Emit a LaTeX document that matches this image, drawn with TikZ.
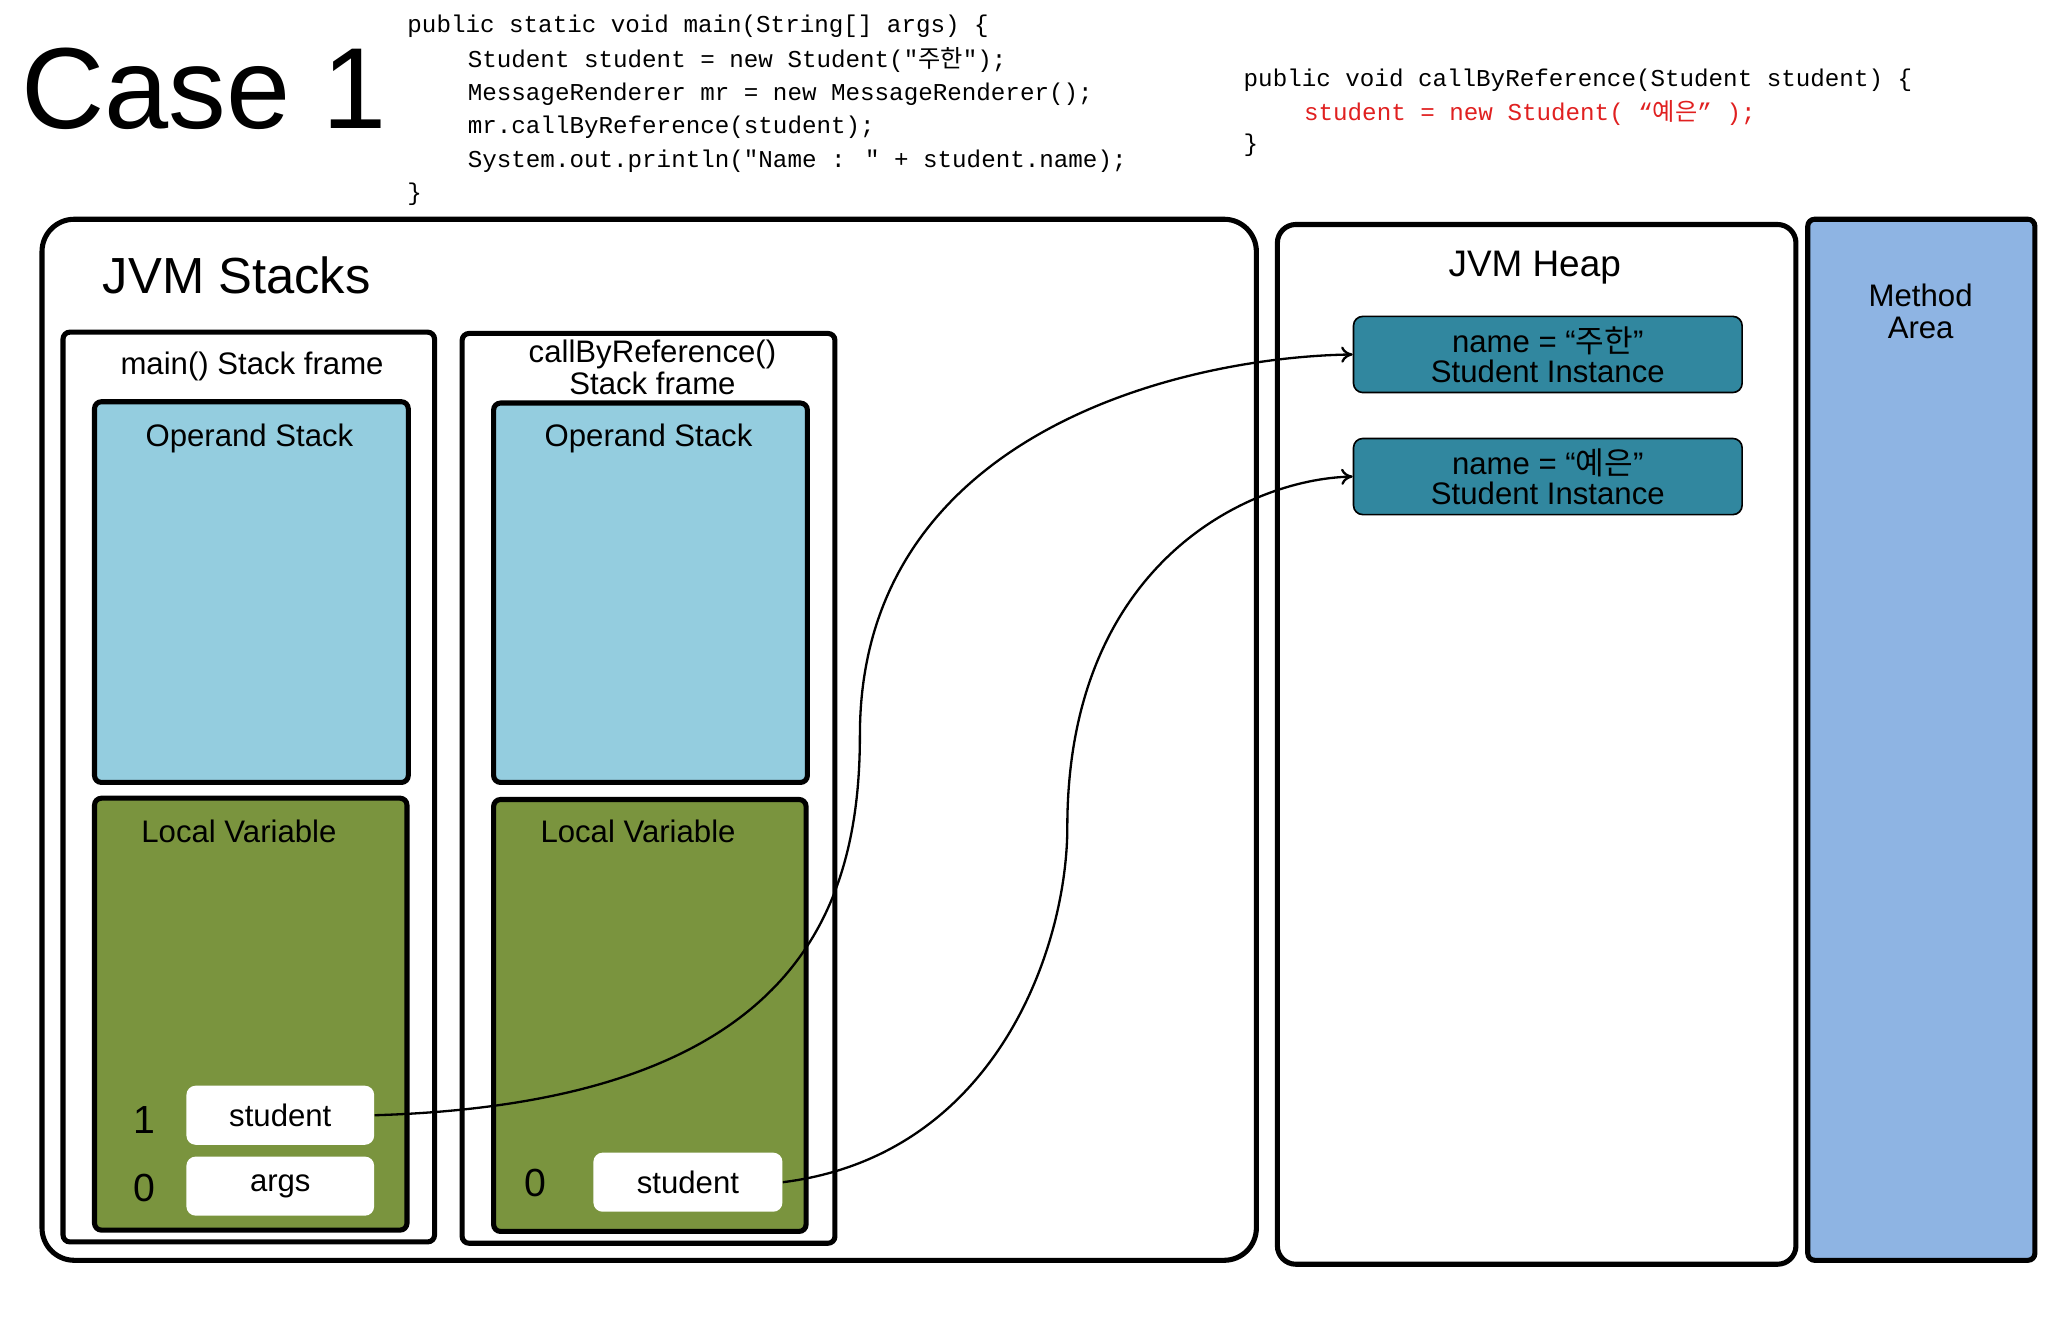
\documentclass[tikz,border=0pt]{standalone}
\usepackage{fontspec}
\setmainfont{Liberation Sans}
\newfontfamily\kr{Noto Sans CJK KR}
\newfontfamily\cde{Liberation Mono}
\usetikzlibrary{fit,arrows.meta}
\definecolor{opblue}{HTML}{94CDDF}
\definecolor{lvgreen}{HTML}{7A943E}
\definecolor{inst}{HTML}{31879F}
\definecolor{meth}{HTML}{8EB4E3}
\definecolor{codered}{HTML}{E02020}
\begin{document}
\begin{tikzpicture}[x=0.02cm,y=-0.02cm,
  bx/.style={draw=black,line width=2.2pt,inner sep=0pt},
  frame/.style={bx,rounded corners=3pt},
  op/.style={bx,fill=opblue,rounded corners=3pt},
  lv/.style={bx,fill=lvgreen,rounded corners=3pt},
  slot/.style={fill=white,rounded corners=4pt,inner sep=0pt},
  ins/.style={draw=black,line width=0.7pt,fill=inst,rounded corners=4pt,inner sep=0pt},
  lbl/.style={font=\fontsize{13.5}{15}\selectfont},
  code/.style={font=\cde\fontsize{10.5}{12}\selectfont,anchor=west,inner sep=0pt},
  ref/.style={line width=1pt,-{To[length=5pt,width=7pt]}}]
\useasboundingbox (0,0) rectangle (1560,1010);
\node[anchor=west,inner sep=0pt,font=\fontsize{50}{50}\selectfont] (case) at (16,68) {Case 1};
% code left
\node[code] (c1) at (310,20) {public static void main(String[] args) \{};
\node[code] (c2) at (356,46) {Student student = new Student("{\kr 주한}");};
\node[code] (c3) at (356,72) {MessageRenderer mr = new MessageRenderer();};
\node[code] (c4) at (356,97) {mr.callByReference(student);};
\node[code] (c5) at (356,123) {System.out.println("Name : " + student.name);};
\node[code] (c6) at (310,148) {\}};
% code right
\node[code] (r1) at (947,61) {public void callByReference(Student student) \{};
\node[code,text=codered] (r2) at (993,86) {student = new Student( “{\kr 예은}” );};
\node[code] (r3) at (947,111) {\}};
% stacks
\node[bx,rounded corners=14pt,fit={(32,167)(957,960)}] (stacks) {};
\node[anchor=west,inner sep=0pt,font=\fontsize{22}{24}\selectfont] (stt) at (78,210) {JVM Stacks};
% main frame
\node[frame,fit={(48,253)(331,946)}] (mf) {};
\node[lbl] (mft) at (192,279) {main() Stack frame};
\node[op,fit={(72,306)(311,596)}] (mop) {};
\node[lbl] (mopt) at (190,334) {Operand Stack};
\node[lv,fit={(72,608)(310,937)}] (mlv) {};
\node[lbl] (mlvt) at (182,633) {Local Variable};
\node[slot,fit={(142,827)(285,872)}] (ms) {};
\node[lbl] at (ms.center) {student};
\node[slot,fit={(142,881)(285,926)}] (ma) {};
\node[lbl] at (ma.center) {args};
\node[font=\fontsize{17}{18}\selectfont] (m1) at (110,853) {1};
\node[font=\fontsize{17}{18}\selectfont] (m0) at (110,905) {0};
% callByReference frame
\node[frame,fit={(352,254)(636,947)}] (cf) {};
\node[lbl,align=center,inner sep=0pt] (cft) at (497,280) {callByReference()\\[-1pt]Stack frame};
\node[op,fit={(376,307)(615,596)}] (cop) {};
\node[lbl] (copt) at (494,334) {Operand Stack};
\node[lv,fit={(376,609)(614,938)}] (clv) {};
\node[lbl] (clvt) at (486,633) {Local Variable};
\node[slot,fit={(452,878)(596,923)}] (cs) {};
\node[lbl] at (cs.center) {student};
\node[font=\fontsize{17}{18}\selectfont] (c0) at (408,901) {0};
% heap
\node[bx,rounded corners=8pt,fit={(973,171)(1368,963)}] (heap) {};
\node[font=\fontsize{16}{18}\selectfont] (heapt) at (1169,204) {JVM Heap};
\node[ins,fit={(1031,241)(1327,299)}] (i1) {};
\node[lbl,align=center,inner sep=0pt] at (i1.center) {name = “{\kr 주한}”\\[-2pt]Student Instance};
\node[ins,fit={(1031,334)(1327,392)}] (i2) {};
\node[lbl,align=center,inner sep=0pt] at (i2.center) {name = “{\kr 예은}”\\[-2pt]Student Instance};
% method area
\node[bx,fill=meth,rounded corners=3pt,fit={(1377,167)(1550,960)}] (ma2) {};
\node[lbl,align=center,inner sep=0pt] (mat) at (1463,237) {Method\\[-1pt]Area};
% references
\draw[ref] (ms.east) .. controls (600,840) and (655,700) .. (655,560)
  .. controls (655,330) and (900,272) .. (i1.west);
\draw[ref] (cs.east) .. controls (760,880) and (813,720) .. (813,630)
  .. controls (813,430) and (950,365) .. (i2.west);
\end{tikzpicture}
\end{document}
